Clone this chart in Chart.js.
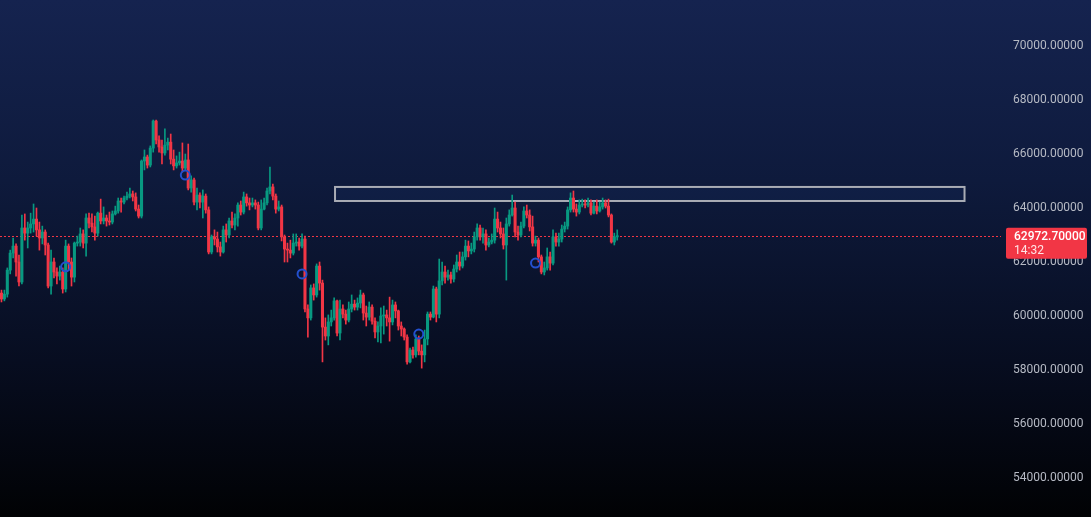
<!DOCTYPE html>
<html>
<head>
<meta charset="utf-8">
<script src="https://cdn.jsdelivr.net/npm/chart.js@4.4.1/dist/chart.umd.min.js"></script>
<style>
  html, body { margin: 0; padding: 0; width: 1091px; height: 517px; overflow: hidden; background: #000; }
  #wrap {
    position: relative; width: 1091px; height: 517px;
    background: linear-gradient(to bottom, #15234f 0%, #0e1a3c 35%, #070d20 70%, #010204 100%);
  }
  canvas { display: block; }
</style>
</head>
<body>
<div id="wrap"><canvas id="chart" width="1091" height="517"></canvas></div>
<script>
// BTC-style candles, open of each candle = previous close
const firstOpen = 60850;
const closes = [
  60630,60810,61700,62330,62590,62000,61260,63260,63070,63260,
  63410,63590,63190,62890,63110,62630,61110,62000,61630,61480,
  61630,61000,62590,62000,61440,62700,62740,63040,62700,63630,
  63440,63300,63070,63810,63520,63630,63520,63480,63780,63890,
  64260,64220,64370,64440,64520,64410,63960,63700,65740,65890,
  65590,66220,67220,66520,66260,66040,66330,66440,65810,65560,
  65670,65740,65480,65780,64740,65040,64220,64480,64220,64440,
  63930,62370,62930,62850,62560,62370,63190,63000,63520,63370,
  63630,64110,63850,64410,64190,64110,64190,64110,63260,63960,
  64190,64630,64780,64440,63960,64040,62930,62480,62440,62330,
  62700,62740,62590,62850,60260,59930,61040,60780,61850,61220,
  59590,59260,59780,59930,60560,59370,60260,60070,59850,60260,
  60440,60330,60480,60780,60110,59960,60330,59810,59410,59630,
  60000,60040,59930,59780,60410,60190,59630,59520,59220,58300,
  58740,58560,59150,58700,58560,59150,60070,59960,61000,60070,
  61300,61630,61440,61520,61370,61740,62000,61850,62190,62590,
  62410,62480,62930,63260,62930,63040,62630,62740,62810,63590,
  63260,63040,62630,63410,63740,64000,63110,63000,63330,63890,
  63740,63300,62700,62810,62190,61630,61780,62190,61960,62930,
  62740,62850,63220,63330,63930,64370,63960,63850,64110,64150,
  64110,64190,63810,64070,63890,64040,64190,64070,63740,62740,
  62930,62972.7
];
const highs = [
  60960,60960,61780,62440,62890,62670,62260,63740,63780,63480,
  63810,64150,64000,63480,63330,63190,62700,62440,62150,61780,
  61850,61780,62810,62670,62150,62740,62960,63260,63190,63780,
  63810,63780,63700,63850,64330,64040,63740,63850,63890,64070,
  64370,64370,64440,64590,64740,64630,64560,64110,65780,66150,
  65960,66300,67260,67260,66670,66520,66930,66590,66740,66150,
  65930,66070,66410,66000,66370,65190,65110,64740,64560,64670,
  64520,64040,63000,63190,63110,62740,63330,63410,63630,63850,
  63780,64190,64260,64590,64520,64370,64370,64300,64220,64300,
  64370,64740,65520,64890,64520,64260,64110,63000,62700,62810,
  63040,63040,62890,63040,62960,60410,61150,61190,61930,62000,
  61330,59930,60040,60220,60670,60590,60590,60410,60220,60520,
  60780,60590,60670,60960,60850,60370,60520,60410,59930,59780,
  60300,60370,60220,60700,60590,60520,60220,59780,59560,59300,
  58810,58850,59300,59260,58930,59480,60150,60150,61110,61070,
  62110,62000,61850,61700,61630,61890,62260,62370,62370,62810,
  62780,62700,63110,63410,63370,63260,63190,62890,63040,64000,
  63850,63480,63260,63630,63930,64480,64220,63330,63480,64040,
  64110,63930,63700,62960,62890,62260,62000,62520,62370,63190,
  63070,63070,63370,63480,64040,64560,64630,64150,64300,64330,
  64300,64370,64300,64220,64300,64220,64370,64300,64330,63780,
  63070,63190
];
const lows = [
  60520,60560,60700,61560,62150,61480,61110,61190,62810,62520,
  63070,63110,62960,62440,62670,62260,61040,60810,61410,61190,
  61330,60850,60890,61700,61110,61260,62590,62590,62520,62220,
  63260,63110,62810,62960,63410,63410,63330,63370,63410,63740,
  63810,63850,64150,64300,64370,64260,63890,63630,63630,65410,
  65480,65520,66070,66370,66070,65630,65960,66150,65630,65410,
  65480,65590,65330,65410,64670,64590,64110,63930,64000,63630,
  63810,62300,62300,62630,62370,62220,62330,62740,62890,63260,
  63190,63330,63740,63780,64070,63930,64040,63960,63190,63190,
  63930,64110,64520,64300,63810,63890,62780,62000,62000,62150,
  62260,62590,62440,62520,60150,59220,59850,60590,60700,60960,
  58300,59110,58930,59630,59850,59260,59110,59930,59700,59780,
  60150,60220,60220,60300,59850,59630,59850,59700,59190,59040,
  59000,59330,59630,59070,59670,59930,59480,59260,59110,58220,
  58260,58440,58480,58560,58070,58300,58930,59850,59930,59780,
  59930,61150,61220,61330,61220,61260,61630,61700,61780,62070,
  62190,62300,62370,62810,62810,62700,62440,62560,62670,62700,
  63110,62890,62480,61330,63330,63700,62930,62810,62930,63260,
  63630,63150,62590,62590,62000,61560,61520,61700,61700,61890,
  62590,62590,62740,63110,63220,63850,63850,63700,63780,64040,
  64000,64040,63740,63780,63780,63850,63960,64000,63670,62700,
  62630,62810
];

// blue circle markers
const markerIndex = [22, 63, 103, 143, 183];
const markerPrice = [61820, 65220, 61560, 59330, 61960];

// drawn rectangle (resistance zone)
const zoneIndex = [114.3, 330];
const zonePrice = [64260, 64780];

const lastPrice = 62972.7;
const countdown = "14:32";
const yTicks = [54000, 56000, 58000, 60000, 62000, 64000, 66000, 68000, 70000];
const slotCount = 343;

const UP = "#089981";
const DOWN = "#f23645";

const opens = closes.map((c, i) => (i === 0 ? firstOpen : closes[i - 1]));
const labels = Array.from({ length: slotCount }, (_, i) => i);
const bodies = closes.map((c, i) => [opens[i], c]);
const wicks = closes.map((c, i) => [lows[i], highs[i]]);
const markers = labels.map(() => null);
markerIndex.forEach((idx, k) => { markers[idx] = markerPrice[k]; });

const candleColor = (ctx) => {
  const i = ctx.dataIndex;
  return closes[i] >= opens[i] ? UP : DOWN;
};

const overlays = {
  id: "overlays",
  beforeDatasetsDraw(chart) {
    const { ctx, chartArea, scales } = chart;
    const x = scales.x, y = scales.y;
    ctx.save();
    // zone rectangle
    const x0 = x.getPixelForValue(zoneIndex[0]);
    const x1 = x.getPixelForValue(zoneIndex[1]);
    const y0 = y.getPixelForValue(zonePrice[1]);
    const y1 = y.getPixelForValue(zonePrice[0]);
    ctx.fillStyle = "rgba(40, 80, 160, 0.10)";
    ctx.fillRect(x0, y0, x1 - x0, y1 - y0);
    ctx.strokeStyle = "#a9acb5";
    ctx.lineWidth = 2;
    ctx.strokeRect(x0, y0, x1 - x0, y1 - y0);
    // last price dotted line
    const py = Math.round(y.getPixelForValue(lastPrice)) + 0.5;
    ctx.strokeStyle = DOWN;
    ctx.lineWidth = 1;
    ctx.setLineDash([2, 2]);
    ctx.beginPath();
    ctx.moveTo(chartArea.left, py);
    ctx.lineTo(chartArea.right, py);
    ctx.stroke();
    ctx.restore();
  },
  afterDraw(chart) {
    const { ctx, chartArea, scales } = chart;
    const py = scales.y.getPixelForValue(lastPrice);
    const bx = chartArea.right + 5;
    ctx.save();
    ctx.fillStyle = DOWN;
    ctx.beginPath();
    ctx.roundRect(bx, py - 8, 81, 31, 2);
    ctx.fill();
    ctx.fillStyle = "#ffffff";
    ctx.font = "500 12px Roboto";
    ctx.textBaseline = "middle";
    ctx.fillText(lastPrice.toFixed(5), bx + 8, py + 1);
    ctx.fillStyle = "#ffe4e6";
    ctx.font = "12px Roboto";
    ctx.fillText(countdown, bx + 8, py + 15);
    ctx.restore();
  }
};

new Chart(document.getElementById("chart"), {
  type: "bar",
  data: {
    labels: labels,
    datasets: [
      {
        type: "line",
        data: markers,
        showLine: false,
        pointRadius: 4.5,
        pointBorderWidth: 2,
        pointBorderColor: "#2350cf",
        pointBackgroundColor: "rgba(0,0,0,0)",
        order: 0
      },
      {
        data: bodies,
        backgroundColor: candleColor,
        barThickness: 2.4,
        minBarLength: 1,
        grouped: false,
        order: 1
      },
      {
        data: wicks,
        backgroundColor: candleColor,
        barThickness: 1,
        grouped: false,
        order: 2
      }
    ]
  },
  options: {
    responsive: false,
    animation: false,
    devicePixelRatio: 1,
    layout: { autoPadding: false, padding: { left: 0, top: 0, bottom: 0, right: 8 } },
    plugins: { legend: { display: false }, tooltip: { enabled: false } },
    scales: {
      x: { display: false, offset: true, grid: { display: false } },
      y: {
        position: "right",
        min: 52556,
        max: 71704,
        grid: { display: false, drawTicks: false },
        border: { display: false },
        afterBuildTicks: (scale) => { scale.ticks = yTicks.map((v) => ({ value: v })); },
        afterFit: (scale) => {
          scale.width = 82;
          scale.paddingTop = 0;
          scale.paddingBottom = 0;
        },
        ticks: {
          color: "#b6bac4",
          padding: 12,
          font: { family: "Roboto", size: 12 },
          callback: (v) => Number(v).toFixed(5)
        }
      }
    }
  },
  plugins: [overlays]
});
</script>
</body>
</html>
